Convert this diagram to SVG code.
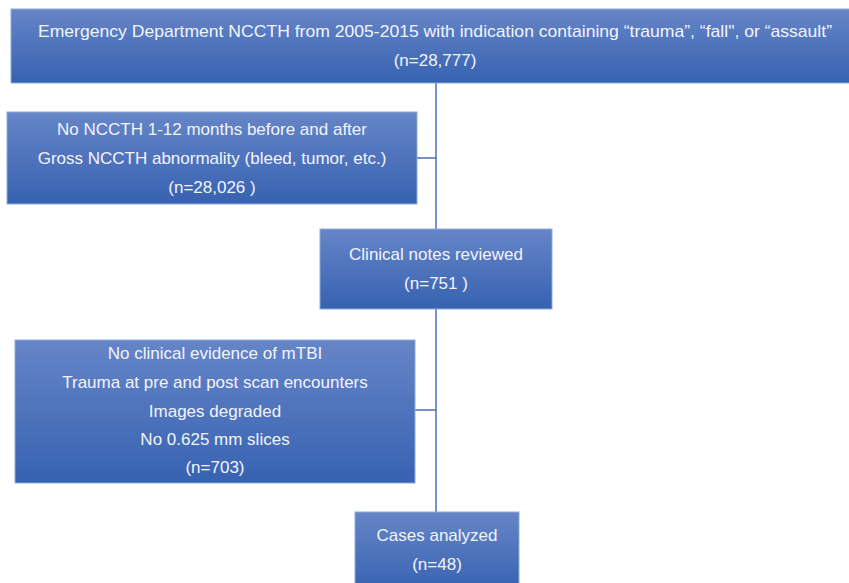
<svg xmlns="http://www.w3.org/2000/svg" width="849" height="583" viewBox="0 0 849 583">
<defs>
<linearGradient id="g" x1="0" y1="0" x2="0" y2="1">
<stop offset="0" stop-color="#6685c7"/>
<stop offset="1" stop-color="#3762b1"/>
</linearGradient>
<style>
.box{fill:url(#g);stroke:#8fa9d9;stroke-width:1}
.t{font-family:"Liberation Sans",Arial,sans-serif;font-size:17px;fill:#f2f4fa;text-anchor:middle}
.c{stroke:#4a6cb8;stroke-width:1.5;fill:none}
</style>
</defs>
<rect width="849" height="583" fill="#ffffff"/>
<g id="connectors">
<line class="c" x1="436" y1="83" x2="436" y2="229"/>
<line class="c" x1="416" y1="158" x2="436" y2="158"/>
<line class="c" x1="436" y1="309" x2="436" y2="512"/>
<line class="c" x1="415" y1="410" x2="436" y2="410"/>
</g>
<g id="n1">
<rect class="box" x="11" y="9" width="840" height="74"/>
<text class="t" x="435" y="37" textLength="794" lengthAdjust="spacingAndGlyphs">Emergency Department NCCTH from 2005-2015 with indication containing “trauma”, “fall", or “assault”</text>
<text class="t" x="435" y="66">(n=28,777)</text>
</g>
<g id="n2">
<rect class="box" x="7" y="112" width="410" height="92"/>
<text class="t" x="212" y="135">No NCCTH 1-12 months before and after</text>
<text class="t" x="212" y="164">Gross NCCTH abnormality (bleed, tumor, etc.)</text>
<text class="t" x="212" y="193">(n=28,026 )</text>
</g>
<g id="n3">
<rect class="box" x="320" y="229" width="232" height="80"/>
<text class="t" x="436" y="260">Clinical notes reviewed</text>
<text class="t" x="436" y="289">(n=751 )</text>
</g>
<g id="n4">
<rect class="box" x="15" y="340" width="400" height="143"/>
<text class="t" x="215" y="359">No clinical evidence of mTBI</text>
<text class="t" x="215" y="388">Trauma at pre and post scan encounters</text>
<text class="t" x="215" y="417">Images degraded</text>
<text class="t" x="215" y="445">No 0.625 mm slices</text>
<text class="t" x="215" y="473">(n=703)</text>
</g>
<g id="n5">
<rect class="box" x="355" y="512" width="164" height="80"/>
<text class="t" x="437" y="541">Cases analyzed</text>
<text class="t" x="437" y="570">(n=48)</text>
</g>
</svg>
